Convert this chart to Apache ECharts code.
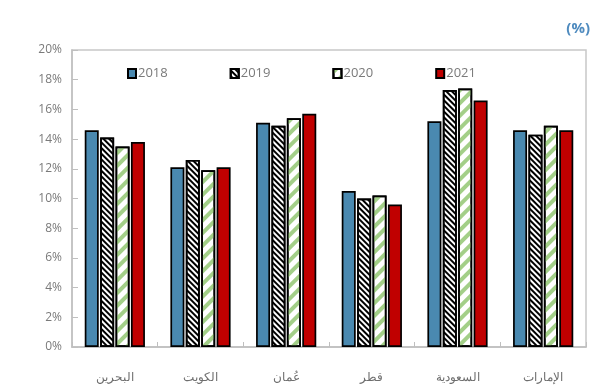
<!DOCTYPE html>
<html>
<head>
<meta charset="utf-8">
<script src="https://cdn.jsdelivr.net/npm/echarts@6/dist/echarts.min.js"></script>
<style>
  html, body { margin: 0; padding: 0; background: #fff; }
  #chart { width: 600px; height: 388px; }
</style>
</head>
<body>
<div id="chart"></div>
<script>
// الدول
var countries = ['البحرين', 'الكويت', 'عُمان', 'قطر', 'السعودية', 'الإمارات'];
var years = ['2018', '2019', '2020', '2021'];
// القيم (%)
var v2018 = [14.6, 12.1, 15.1, 10.5, 15.2, 14.6];
var v2019 = [14.1, 12.6, 14.9, 10.0, 17.3, 14.3];
var v2020 = [13.5, 11.9, 15.4, 10.2, 17.4, 14.9];
var v2021 = [13.8, 12.1, 15.7, 9.6, 16.6, 14.6];
var yTicks = [0, 2, 4, 6, 8, 10, 12, 14, 16, 18, 20];

var chart = echarts.init(document.getElementById('chart'), null, { renderer: 'canvas' });

// تظليل أسود مائل
var hatchBlack = {
  symbol: 'rect',
  symbolSize: 1,
  color: '#000',
  dashArrayX: [1, 0],
  dashArrayY: [1.8, 1.8],
  rotation: Math.PI / 4
};
// خطوط خضراء عريضة
var hatchGreen = {
  symbol: 'rect',
  symbolSize: 1,
  color: '#a3cf88',
  dashArrayX: [1, 0],
  dashArrayY: [3.5, 4.5],
  rotation: -Math.PI / 4
};

function barSeries(name, data, color, decal) {
  var style = {
    color: color,
    borderColor: '#000',
    borderWidth: 1.7
  };
  if (decal) style.decal = decal;
  return {
    name: name,
    type: 'bar',
    data: data,
    barWidth: 14,
    barGap: '10%',
    itemStyle: style
  };
}

var option = {
  animation: false,
  title: {
    text: '(%)',
    right: 5,
    top: 16,
    textStyle: { color: '#4f8bbf', fontSize: 15, fontWeight: 'bold', fontFamily: 'Open Sans' }
  },
  legend: {
    data: years,
    top: 62,
    left: 122,
    itemGap: 62,
    itemWidth: 8,
    itemHeight: 9,
    icon: 'rect',
    textStyle: { color: '#7a7a7a', fontSize: 13, fontFamily: 'Open Sans', padding: [0, 0, 0, -3] }
  },
  grid: {
    left: 72,
    right: 14,
    top: 50,
    bottom: 41,
    show: true,
    borderColor: '#c8c8c8',
    borderWidth: 1.5
  },
  xAxis: {
    type: 'category',
    data: countries,
    axisLine: { lineStyle: { color: '#bfbfbf', width: 1.5 } },
    axisTick: { show: true, inside: true, length: 5, lineStyle: { color: '#bfbfbf' } },
    axisLabel: { color: '#6e6e6e', fontSize: 12, margin: 25, fontFamily: 'Noto Sans' }
  },
  yAxis: {
    type: 'value',
    min: 0,
    max: 20,
    interval: 2,
    axisLine: { show: true, lineStyle: { color: '#bfbfbf', width: 1.5 } },
    axisTick: { show: true, inside: true, length: 6, lineStyle: { color: '#bfbfbf' } },
    splitLine: { show: false },
    axisLabel: {
      color: '#7a7a7a',
      fontSize: 12,
      margin: 10,
      fontFamily: 'Open Sans',
      formatter: function (v) { return yTicks.indexOf(v) >= 0 ? v + '%' : ''; }
    }
  },
  series: [
    barSeries('2018', v2018, '#4a89b0'),
    barSeries('2019', v2019, '#ffffff', hatchBlack),
    barSeries('2020', v2020, '#ffffff', hatchGreen),
    barSeries('2021', v2021, '#c00000')
  ]
};

chart.setOption(option);
</script>
</body>
</html>
